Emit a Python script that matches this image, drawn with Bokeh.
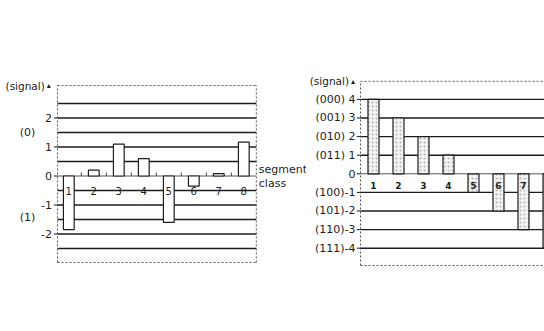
from bokeh.plotting import figure
from bokeh.layouts import row
from bokeh.embed import file_html
from bokeh.resources import INLINE
from bokeh.core.properties import value

# ---------------- data ----------------
left_classes = [1, 2, 3, 4, 5, 6, 7, 8]
left_values = [-1.85, 0.2, 1.1, 0.6, -1.6, -0.35, 0.08, 1.17]
left_ticks = [2, 1, 0, -1, -2]
left_tick_labels = ["2", "1", "0", "-1", "-2"]
left_grid = [2.5, 2, 1.5, 1, 0.5, -0.5, -1, -1.5, -2, -2.5]
left_level_labels = ["(0)", "(1)"]
left_level_y = [1.5, -1.42]

right_classes = [1, 2, 3, 4, 5, 6, 7, 8]
right_values = [4, 3, 2, 1, -1, -2, -3, -4]
right_visible_labels = ["1", "2", "3", "4", "5", "6", "7"]
right_ticks = [4, 3, 2, 1, 0, -1, -2, -3, -4]
right_tick_labels = ["(000) 4", "(001) 3", "(010) 2", "(011) 1", "0",
                     "(100)-1", "(101)-2", "(110)-3", "(111)-4"]
right_grid = [4, 3, 2, 1, -1, -2, -3, -4]

FONT = value("DejaVu Sans")
INK = "#1c1c1c"


def base(width, x0, x1, y0, y1):
    p = figure(width=width, height=278, x_range=(x0, x1), y_range=(y0, y1),
               output_backend="svg", toolbar_location=None,
               x_axis_location=None, y_axis_location=None, min_border=0)
    p.outline_line_color = None
    p.xgrid.visible = False
    p.ygrid.visible = False
    p.background_fill_color = "white"
    p.border_fill_color = "white"
    return p


# ---------------- left panel ----------------
AX, RX, TOP, BOT = 0.55, 8.5, 3.12, -2.98
p1 = base(306, -1.732, 10.508, -3.534, 6.052)

n = len(left_grid)
p1.segment(x0=[AX] * n, y0=left_grid, x1=[RX] * n, y1=left_grid,
           line_color=INK, line_width=1.4)
p1.segment(x0=[AX], y0=[0], x1=[RX], y1=[0], line_color="#555", line_width=1)
bounds = [x + 0.5 for x in left_classes[:-1]]
p1.segment(x0=bounds, y0=[0] * len(bounds), x1=bounds, y1=[0.12] * len(bounds),
           line_color="#444", line_width=1)
# dotted frame
p1.segment(x0=[AX, AX, AX, RX], y0=[TOP, BOT, BOT, BOT],
           x1=[RX, RX, AX, RX], y1=[TOP, BOT, TOP, TOP],
           line_color="#555", line_width=1, line_dash="2 2")
p1.segment(x0=[AX - 0.15] * len(left_ticks), y0=left_ticks,
           x1=[AX] * len(left_ticks), y1=left_ticks, line_color=INK, line_width=1)
p1.vbar(x=left_classes, top=left_values, bottom=0, width=0.43,
        fill_color="white", line_color=INK, line_width=1.2)
p1.text(x=left_classes, y=[-0.5] * 8, text=[str(c) for c in left_classes],
        text_align="center", text_baseline="middle", text_font=FONT,
        text_font_size="10px", text_color=INK)
p1.text(x=[AX - 0.22] * len(left_ticks), y=left_ticks, text=left_tick_labels,
        text_align="right", text_baseline="middle", text_font=FONT,
        text_font_size="11px", text_color=INK)
p1.text(x=[-0.65] * 2, y=left_level_y, text=left_level_labels,
        text_align="center", text_baseline="middle", text_font=FONT,
        text_font_size="11px", text_color=INK)
p1.text(x=[-1.53], y=[TOP], text=["(signal)"], text_align="left",
        text_baseline="middle", text_font=FONT, text_font_size="10.5px",
        text_color=INK)
p1.text(x=[0.2], y=[TOP], text=["\u25b4"], text_align="center",
        text_baseline="middle", text_font=FONT, text_font_size="8px",
        text_color=INK)
p1.text(x=[8.6, 8.6], y=[0.22, -0.26], text=["segment", "class"],
        text_align="left", text_baseline="middle", text_font=FONT,
        text_font_size="11px", text_color=INK)

# ---------------- right panel ----------------
AX2, RX2, TOP2, BOT2 = 0.48, 8.6, 4.97, -4.93
p2 = base(238, -1.68, 7.84, -5.629, 9.317)

m = len(right_grid)
p2.segment(x0=[AX2] * m, y0=right_grid, x1=[RX2] * m, y1=right_grid,
           line_color=INK, line_width=1.4)
p2.segment(x0=[AX2], y0=[0], x1=[RX2], y1=[0], line_color="#555", line_width=1)
p2.segment(x0=[AX2, AX2, AX2], y0=[TOP2, BOT2, BOT2],
           x1=[RX2, RX2, AX2], y1=[TOP2, BOT2, TOP2],
           line_color="#555", line_width=1, line_dash="2 2")
p2.segment(x0=[AX2 - 0.15] * len(right_ticks), y0=right_ticks,
           x1=[AX2] * len(right_ticks), y1=right_ticks, line_color=INK, line_width=1)
p2.vbar(x=right_classes, top=right_values, bottom=0, width=0.44,
        fill_color="#f4f4f4", line_color=INK, line_width=1.2,
        hatch_pattern="dot", hatch_color="#b0b0b0", hatch_scale=4, hatch_weight=1)
nl = len(right_visible_labels)
p2.text(x=right_classes[:nl], y=[-0.62] * nl, text=right_visible_labels,
        text_align="center", text_baseline="middle", text_font=FONT,
        text_font_size="9px", text_font_style="bold", text_color=INK)
p2.text(x=[0.28] * len(right_ticks), y=right_ticks, text=right_tick_labels,
        text_align="right", text_baseline="middle", text_font=FONT,
        text_font_size="11px", text_color=INK)
p2.text(x=[0.02], y=[TOP2], text=["(signal)"], text_align="right",
        text_baseline="middle", text_font=FONT, text_font_size="10.5px",
        text_color=INK)
p2.text(x=[0.18], y=[TOP2], text=["\u25b4"], text_align="center",
        text_baseline="middle", text_font=FONT, text_font_size="8px",
        text_color=INK)

layout = row(p1, p2, spacing=0)
open("out.html", "w").write(file_html(layout, INLINE))
